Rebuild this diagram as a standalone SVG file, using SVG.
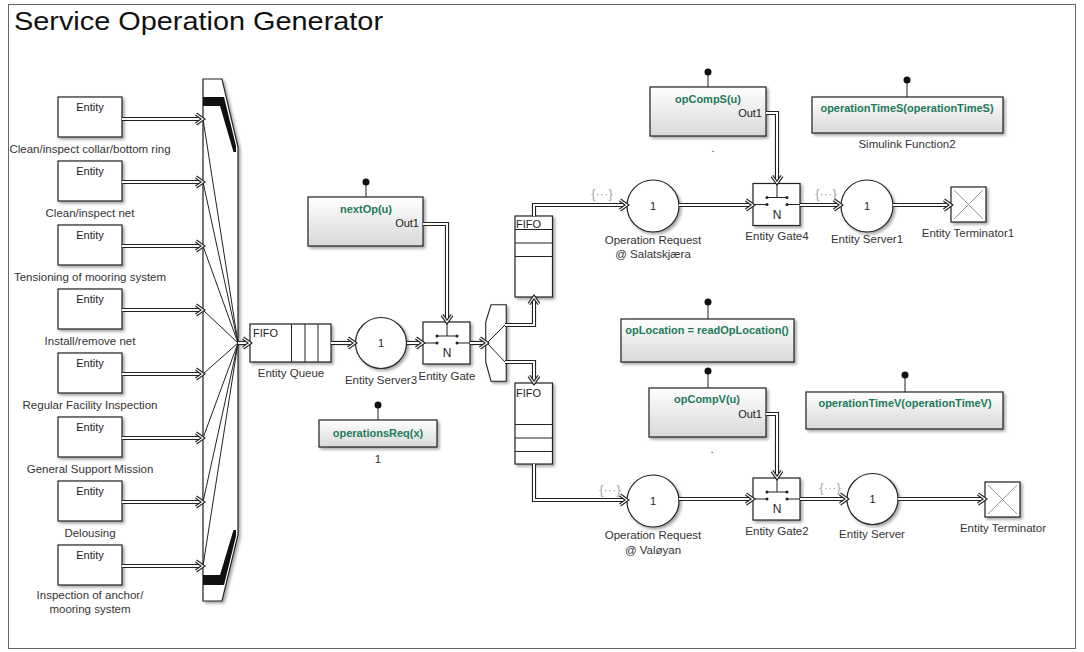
<svg xmlns="http://www.w3.org/2000/svg" xmlns:xlink="http://www.w3.org/1999/xlink" width="1084" height="652" viewBox="0 0 1084 652">
<style>
  text { font-family: "Liberation Sans", Arial, sans-serif; fill: #333; }
  .title { font-size: 26px; fill: #111; }
  .lbl { font-size: 11.5px; text-anchor: middle; }
  .in { font-size: 11px; text-anchor: middle; fill: #222; }
  .fifo { font-size: 11px; fill: #222; }
  .fn { font-size: 11px; font-weight: bold; text-anchor: middle; fill: #1e7a5a; }
  .out { font-size: 11px; text-anchor: end; fill: #222; }
  .ev { font-size: 13px; fill: #a8a8a8; text-anchor: middle; }
  .blk { fill: #fff; stroke: #222; stroke-width: 1.2; }
  .fnb { fill: url(#fg); stroke: #222; stroke-width: 1.2; }
  .thin { stroke: #222; stroke-width: 1; fill: none; }
  .grey { stroke: #999; stroke-width: 1; }
  .k { fill: none; stroke: #222; stroke-width: 4.2; }
  .w { fill: none; stroke: #fff; stroke-width: 2; marker-end: url(#ah); }
</style>
<defs>
  <linearGradient id="fg" x1="0" y1="0" x2="0" y2="1">
    <stop offset="0" stop-color="#ffffff"/>
    <stop offset="1" stop-color="#d8d8d8"/>
  </linearGradient>
  <filter id="sh" x="-20%" y="-20%" width="150%" height="150%">
    <feDropShadow dx="2" dy="2" stdDeviation="1.4" flood-color="#000" flood-opacity="0.35"/>
  </filter>
  <!-- double-stroke chevron used on entity connections -->
  <marker id="ah" markerUnits="userSpaceOnUse" markerWidth="16" markerHeight="16" viewBox="-10 -8 12 16" refX="0" refY="0" orient="auto" overflow="visible">
    <path d="M-7,-5 L0,0 L-7,5" fill="none" stroke="#222" stroke-width="3.4"/>
    <path d="M-7,-5 L0,0 L-7,5" fill="none" stroke="#fff" stroke-width="1.2"/>
  </marker>
  <g id="gateIcon">
    <line x1="24" y1="0" x2="24" y2="14" class="thin"/>
    <line x1="14" y1="14" x2="34" y2="14" class="thin"/>
    <line x1="0" y1="21" x2="14" y2="21" class="thin"/>
    <line x1="34" y1="21" x2="47" y2="21" class="thin"/>
    <circle cx="14" cy="14" r="1.5" fill="#222"/>
    <circle cx="34" cy="14" r="1.5" fill="#222"/>
    <circle cx="14" cy="21" r="1.5" fill="#222"/>
    <circle cx="34" cy="21" r="1.5" fill="#222"/>
    <text x="24" y="35" class="in" style="font-size:12px">N</text>
  </g>
  <!-- connector geometry -->
  <path id="c1" d="M122,119 L203,119"/>
  <path id="c2" d="M122,182 L203,182"/>
  <path id="c3" d="M122,246 L203,246"/>
  <path id="c4" d="M122,310 L203,310"/>
  <path id="c5" d="M122,374 L203,374"/>
  <path id="c6" d="M122,438 L203,438"/>
  <path id="c7" d="M122,502 L203,502"/>
  <path id="c8" d="M122,566 L203,566"/>
  <path id="c9" d="M238,343 L250,343"/>
  <path id="c10" d="M331,343 L355,343"/>
  <path id="c11" d="M407,343 L423,343"/>
  <path id="c12" d="M470,343 L487,343"/>
  <path id="c13" d="M423,224 L447,224 L447,322"/>
  <path id="c14" d="M505,325 L534,325 L534,297"/>
  <path id="c15" d="M505,362 L534,362 L534,383"/>
  <path id="c16" d="M534,216 L534,205 L627,205"/>
  <path id="c17" d="M679,205 L753,205"/>
  <path id="c18" d="M766,113 L777,113 L777,183"/>
  <path id="c19" d="M800,205 L841,205"/>
  <path id="c20" d="M893,205 L951,205"/>
  <path id="c21" d="M534,464 L534,500 L627,500"/>
  <path id="c22" d="M679,499 L753,499"/>
  <path id="c23" d="M766,414 L777,414 L777,478"/>
  <path id="c24" d="M800,499 L847,499"/>
  <path id="c25" d="M898,499 L985,499"/>
</defs>

<rect width="1084" height="652" fill="#fff"/>
<rect x="8.5" y="4.5" width="1067" height="644" fill="none" stroke="#666" stroke-width="1"/>
<text x="14" y="30" class="title" textLength="369" lengthAdjust="spacingAndGlyphs">Service Operation Generator</text>

<!-- entity generators -->
<g id="gen1"><rect x="58" y="97" width="64" height="40" class="blk" filter="url(#sh)"/><text x="90" y="111" class="in">Entity</text><text x="90" y="153" class="lbl">Clean/inspect collar/bottom ring</text></g>
<g id="gen2"><rect x="58" y="161" width="64" height="40" class="blk" filter="url(#sh)"/><text x="90" y="175" class="in">Entity</text><text x="90" y="217" class="lbl">Clean/inspect net</text></g>
<g id="gen3"><rect x="58" y="225" width="64" height="40" class="blk" filter="url(#sh)"/><text x="90" y="239" class="in">Entity</text><text x="90" y="281" class="lbl">Tensioning of mooring system</text></g>
<g id="gen4"><rect x="58" y="289" width="64" height="40" class="blk" filter="url(#sh)"/><text x="90" y="303" class="in">Entity</text><text x="90" y="345" class="lbl">Install/remove net</text></g>
<g id="gen5"><rect x="58" y="353" width="64" height="40" class="blk" filter="url(#sh)"/><text x="90" y="367" class="in">Entity</text><text x="90" y="409" class="lbl">Regular Facility Inspection</text></g>
<g id="gen6"><rect x="58" y="417" width="64" height="40" class="blk" filter="url(#sh)"/><text x="90" y="431" class="in">Entity</text><text x="90" y="473" class="lbl">General Support Mission</text></g>
<g id="gen7"><rect x="58" y="481" width="64" height="40" class="blk" filter="url(#sh)"/><text x="90" y="495" class="in">Entity</text><text x="90" y="537" class="lbl">Delousing</text></g>
<g id="gen8"><rect x="58" y="545" width="64" height="40" class="blk" filter="url(#sh)"/><text x="90" y="559" class="in">Entity</text><text x="90" y="599" class="lbl">Inspection of anchor/</text><text x="90" y="613" class="lbl">mooring system</text></g>

<!-- path combiner -->
<g id="combiner">
  <polygon points="203,79 222,79 238,147 238,535 222,601 203,601" class="blk" filter="url(#sh)"/>
  <polygon points="203,97 224,97 236,146 236,152 233.5,152 220,106 203,106" fill="#111"/>
  <polygon points="203,585 224,585 236,536 236,530 233.5,530 220,575 203,575" fill="#111"/>
  <g class="thin">
    <line x1="203" y1="119" x2="238" y2="343"/>
    <line x1="203" y1="182" x2="238" y2="343"/>
    <line x1="203" y1="246" x2="238" y2="343"/>
    <line x1="203" y1="310" x2="238" y2="343"/>
    <line x1="203" y1="374" x2="238" y2="343"/>
    <line x1="203" y1="438" x2="238" y2="343"/>
    <line x1="203" y1="502" x2="238" y2="343"/>
    <line x1="203" y1="566" x2="238" y2="343"/>
  </g>
</g>

<!-- entity queue -->
<g id="queue">
  <rect x="250" y="324" width="81" height="38" class="blk" filter="url(#sh)"/>
  <line x1="291.5" y1="324" x2="291.5" y2="362" class="thin"/>
  <line x1="305" y1="324" x2="305" y2="362" class="thin"/>
  <line x1="318" y1="324" x2="318" y2="362" class="thin"/>
  <text x="253" y="337" class="fifo">FIFO</text>
  <text x="291" y="377" class="lbl">Entity Queue</text>
</g>

<!-- entity server 3 -->
<g id="server3">
  <circle cx="381" cy="343" r="25.5" class="blk" filter="url(#sh)"/>
  <text x="381" y="347" class="in">1</text>
  <text x="381" y="384" class="lbl">Entity Server3</text>
</g>

<!-- entity gate -->
<g id="gate">
  <rect x="423" y="322" width="47" height="42" class="blk" filter="url(#sh)"/>
  <use xlink:href="#gateIcon" x="423" y="322"/>
  <text x="447" y="380" class="lbl">Entity Gate</text>
</g>

<!-- nextOp function -->
<g id="nextOp">
  <line x1="366" y1="182" x2="366" y2="197" class="thin"/>
  <circle cx="366" cy="182" r="3.5" fill="#111"/>
  <rect x="308" y="197" width="115" height="49" class="fnb" filter="url(#sh)"/>
  <text x="366" y="213" class="fn">nextOp(u)</text>
  <text x="419" y="227" class="out">Out1</text>
</g>

<!-- operationsReq function -->
<g id="operationsReq">
  <line x1="378" y1="405" x2="378" y2="420" class="thin"/>
  <circle cx="378" cy="405" r="3.5" fill="#111"/>
  <rect x="319" y="420" width="118" height="27" class="fnb" filter="url(#sh)"/>
  <text x="378" y="437" class="fn">operationsReq(x)</text>
  <text x="378" y="463" class="lbl">1</text>
</g>

<!-- output switch -->
<g id="switch">
  <polygon points="492,306 505,306 505,380 492,380 487,362 487,322" fill="#fff" stroke="#222" stroke-width="3.6" filter="url(#sh)"/>
  <polygon points="492,306 505,306 505,380 492,380 487,362 487,322" fill="#fff" stroke="#fff" stroke-width="1.4"/>
  <line x1="487" y1="343" x2="505" y2="325" class="thin"/>
  <line x1="487" y1="343" x2="505" y2="362" class="thin"/>
</g>

<!-- queue S -->
<g id="queueS">
  <rect x="515" y="216" width="37.5" height="81" class="blk" filter="url(#sh)"/>
  <line x1="515" y1="229.5" x2="552.5" y2="229.5" class="thin"/>
  <line x1="515" y1="243" x2="552.5" y2="243" class="thin"/>
  <line x1="515" y1="256.5" x2="552.5" y2="256.5" class="thin"/>
  <text x="516" y="228" class="fifo">FIFO</text>
</g>

<!-- queue V -->
<g id="queueV">
  <rect x="515" y="383" width="37.5" height="81" class="blk" filter="url(#sh)"/>
  <line x1="515" y1="424.5" x2="552.5" y2="424.5" class="thin"/>
  <line x1="515" y1="438" x2="552.5" y2="438" class="thin"/>
  <line x1="515" y1="451.5" x2="552.5" y2="451.5" class="thin"/>
  <text x="516" y="397" class="fifo">FIFO</text>
</g>

<!-- operation request S -->
<g id="opReqS">
  <circle cx="653" cy="206" r="26" class="blk" filter="url(#sh)"/>
  <text x="653" y="210" class="in">1</text>
  <text x="602" y="198" class="ev">{···}</text>
  <text x="653" y="244" class="lbl">Operation Request</text>
  <text x="653" y="258" class="lbl">@ Salatskjæra</text>
</g>

<!-- opCompS function -->
<g id="opCompS">
  <line x1="708" y1="72" x2="708" y2="87" class="thin"/>
  <circle cx="708" cy="72" r="3.5" fill="#111"/>
  <rect x="650" y="87" width="116" height="49" class="fnb" filter="url(#sh)"/>
  <text x="708" y="103" class="fn">opCompS(u)</text>
  <text x="762" y="117" class="out">Out1</text>
  <text x="713" y="152" class="lbl">.</text>
</g>

<!-- gate 4 -->
<g id="gate4">
  <rect x="753" y="183.5" width="47" height="42" class="blk" filter="url(#sh)"/>
  <use xlink:href="#gateIcon" x="753" y="183.5"/>
  <text x="777" y="240" class="lbl">Entity Gate4</text>
</g>

<!-- server 1 -->
<g id="server1">
  <circle cx="867" cy="206" r="26" class="blk" filter="url(#sh)"/>
  <text x="867" y="210" class="in">1</text>
  <text x="826" y="198" class="ev">{···}</text>
  <text x="867" y="243" class="lbl">Entity Server1</text>
</g>

<!-- terminator 1 -->
<g id="term1">
  <rect x="951" y="187" width="35" height="35" class="blk" filter="url(#sh)"/>
  <line x1="954" y1="190" x2="983" y2="219" class="grey"/>
  <line x1="983" y1="190" x2="954" y2="219" class="grey"/>
  <text x="968" y="237" class="lbl">Entity Terminator1</text>
</g>

<!-- operationTimeS function -->
<g id="opTimeS">
  <line x1="907" y1="80" x2="907" y2="97" class="thin"/>
  <circle cx="907" cy="80" r="3.5" fill="#111"/>
  <rect x="812" y="97" width="191" height="36" class="fnb" filter="url(#sh)"/>
  <text x="907" y="112" class="fn">operationTimeS(operationTimeS)</text>
  <text x="907" y="148" class="lbl">Simulink Function2</text>
</g>

<!-- opLocation function -->
<g id="opLocation">
  <line x1="708" y1="302" x2="708" y2="319" class="thin"/>
  <circle cx="708" cy="302" r="3.5" fill="#111"/>
  <rect x="621" y="319" width="173" height="43" class="fnb" filter="url(#sh)"/>
  <text x="707" y="334" class="fn">opLocation = readOpLocation()</text>
</g>

<!-- opCompV function -->
<g id="opCompV">
  <line x1="708" y1="371" x2="708" y2="388" class="thin"/>
  <circle cx="708" cy="371" r="3.5" fill="#111"/>
  <rect x="649" y="388" width="117" height="49" class="fnb" filter="url(#sh)"/>
  <text x="707" y="403" class="fn">opCompV(u)</text>
  <text x="762" y="418" class="out">Out1</text>
  <text x="712" y="453" class="lbl">.</text>
</g>

<!-- operationTimeV function -->
<g id="opTimeV">
  <line x1="905" y1="375" x2="905" y2="392" class="thin"/>
  <circle cx="905" cy="375" r="3.5" fill="#111"/>
  <rect x="806" y="392" width="197" height="37" class="fnb" filter="url(#sh)"/>
  <text x="905" y="407" class="fn">operationTimeV(operationTimeV)</text>
</g>

<!-- operation request V -->
<g id="opReqV">
  <circle cx="653" cy="501" r="26" class="blk" filter="url(#sh)"/>
  <text x="653" y="505" class="in">1</text>
  <text x="610" y="494" class="ev">{···}</text>
  <text x="653" y="539" class="lbl">Operation Request</text>
  <text x="653" y="554" class="lbl">@ Valøyan</text>
</g>

<!-- gate 2 -->
<g id="gate2">
  <rect x="753" y="478" width="47" height="42" class="blk" filter="url(#sh)"/>
  <use xlink:href="#gateIcon" x="753" y="478"/>
  <text x="777" y="535" class="lbl">Entity Gate2</text>
</g>

<!-- server -->
<g id="server">
  <circle cx="872.5" cy="499" r="25.5" class="blk" filter="url(#sh)"/>
  <text x="872.5" y="503" class="in">1</text>
  <text x="830" y="492" class="ev">{···}</text>
  <text x="872" y="538" class="lbl">Entity Server</text>
</g>

<!-- terminator -->
<g id="term">
  <rect x="985" y="482" width="35" height="35" class="blk" filter="url(#sh)"/>
  <line x1="988" y1="485" x2="1017" y2="514" class="grey"/>
  <line x1="1017" y1="485" x2="988" y2="514" class="grey"/>
  <text x="1003" y="532" class="lbl">Entity Terminator</text>
</g>

<!-- entity connections: dark underlay, white core with chevron -->
<g id="connectors">
  <g class="k">
    <use xlink:href="#c1"/><use xlink:href="#c2"/><use xlink:href="#c3"/><use xlink:href="#c4"/>
    <use xlink:href="#c5"/><use xlink:href="#c6"/><use xlink:href="#c7"/><use xlink:href="#c8"/>
    <use xlink:href="#c9"/><use xlink:href="#c10"/><use xlink:href="#c11"/><use xlink:href="#c12"/>
    <use xlink:href="#c13"/><use xlink:href="#c14"/><use xlink:href="#c15"/><use xlink:href="#c16"/>
    <use xlink:href="#c17"/><use xlink:href="#c18"/><use xlink:href="#c19"/><use xlink:href="#c20"/>
    <use xlink:href="#c21"/><use xlink:href="#c22"/><use xlink:href="#c23"/><use xlink:href="#c24"/>
    <use xlink:href="#c25"/>
  </g>
  <g class="w">
    <use xlink:href="#c1"/><use xlink:href="#c2"/><use xlink:href="#c3"/><use xlink:href="#c4"/>
    <use xlink:href="#c5"/><use xlink:href="#c6"/><use xlink:href="#c7"/><use xlink:href="#c8"/>
    <use xlink:href="#c9"/><use xlink:href="#c10"/><use xlink:href="#c11"/><use xlink:href="#c12"/>
    <use xlink:href="#c13"/><use xlink:href="#c14"/><use xlink:href="#c15"/><use xlink:href="#c16"/>
    <use xlink:href="#c17"/><use xlink:href="#c18"/><use xlink:href="#c19"/><use xlink:href="#c20"/>
    <use xlink:href="#c21"/><use xlink:href="#c22"/><use xlink:href="#c23"/><use xlink:href="#c24"/>
    <use xlink:href="#c25"/>
  </g>
</g>
</svg>
